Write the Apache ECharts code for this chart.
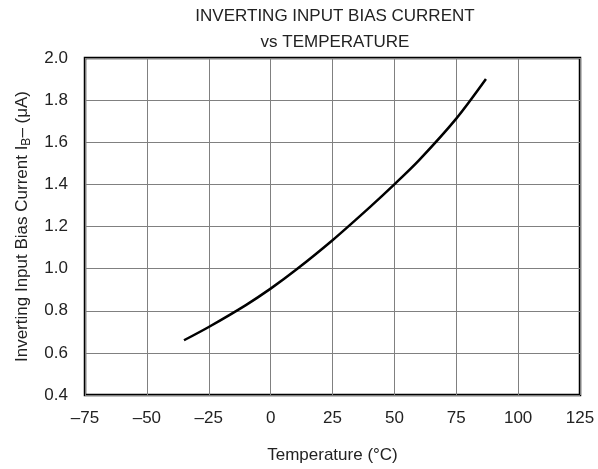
<!DOCTYPE html>
<html>
<head>
<meta charset="utf-8">
<script src="https://cdn.jsdelivr.net/npm/echarts@6/dist/echarts.min.js"></script>
<style>
  html, body { margin: 0; padding: 0; background: #fff; }
  #chart { width: 598px; height: 469px; }
</style>
</head>
<body>
<div id="chart"></div>
<script>
// temperature (°C) and inverting input bias current (µA)
const temps = [-35, -25, -10, 0, 10, 25, 40, 50, 60, 75, 87]
const biasCurrent = [0.66, 0.723, 0.827, 0.905, 0.992, 1.135, 1.291, 1.40, 1.515, 1.712, 1.90]

const xTicks = { min: -75, max: 125, step: 25 }
const yTicks = { min: 0.4, max: 2.0, step: 0.2 }

const font = 'Liberation Sans, Arial, sans-serif'
const chart = echarts.init(document.getElementById('chart'))

const fmtX = v => (v < 0 ? '\u2013' + Math.abs(v) : String(v))

chart.setOption({
  backgroundColor: '#fff',
  animation: false,
  title: {
    text: 'INVERTING INPUT BIAS CURRENT\nvs TEMPERATURE',
    left: 330,
    textAlign: 'center',
    top: -2,
    textStyle: {
      fontFamily: font,
      fontSize: 17,
      fontWeight: 'normal',
      color: '#222',
      lineHeight: 26
    }
  },
  grid: {
    left: 85,
    right: 18,
    top: 58,
    bottom: 73,
    show: true,
    borderColor: '#000',
    borderWidth: 2.5
  },
  xAxis: {
    type: 'value',
    min: xTicks.min,
    max: xTicks.max,
    interval: xTicks.step,
    name: 'Temperature (°C)',
    nameLocation: 'middle',
    nameGap: 52,
    nameTextStyle: { fontFamily: font, fontSize: 17, color: '#222' },
    axisLine: { show: false },
    axisTick: { show: false },
    axisLabel: {
      fontFamily: font, fontSize: 17, color: '#222', margin: 15,
      formatter: fmtX
    },
    splitLine: { show: true, lineStyle: { color: '#808080', width: 1 } }
  },
  yAxis: {
    type: 'value',
    min: yTicks.min,
    max: yTicks.max,
    interval: yTicks.step,
    name: '{n|Inverting Input Bias Current I}{s|B}{n|\u2013 (\u03bcA)}',
    nameLocation: 'middle',
    nameGap: 52,
    nameTextStyle: {
      fontFamily: font, fontSize: 17, color: '#222',
      rich: {
        n: { fontFamily: font, fontSize: 17, color: '#222' },
        s: { fontFamily: font, fontSize: 12, color: '#222', verticalAlign: 'bottom', padding: [9, 0, 0, 0] }
      }
    },
    axisLine: { show: false },
    axisTick: { show: false },
    axisLabel: {
      fontFamily: font, fontSize: 17, color: '#222', margin: 17,
      formatter: v => v.toFixed(1)
    },
    splitLine: { show: true, lineStyle: { color: '#808080', width: 1 } }
  },
  series: [{
    type: 'line',
    data: temps.map((t, i) => [t, biasCurrent[i]]),
    smooth: 0.3,
    showSymbol: false,
    lineStyle: { color: '#000', width: 2.5 }
  }]
})
</script>
</body>
</html>
